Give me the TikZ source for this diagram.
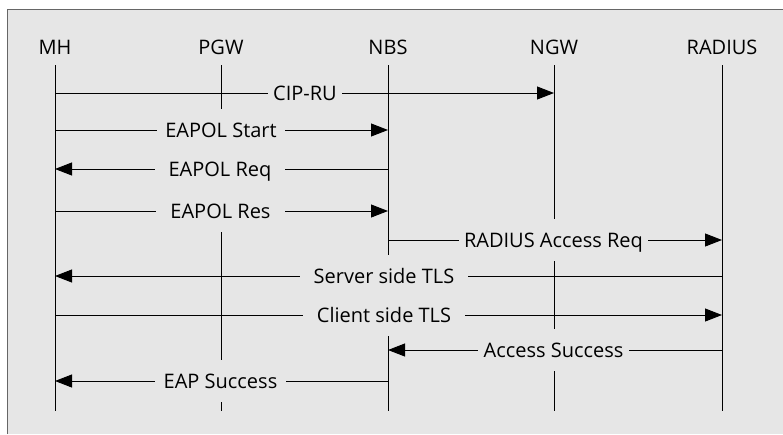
\documentclass[tikz,border=0pt]{standalone}
\usepackage{fontspec}
\setmainfont{Open Sans}
\usetikzlibrary{arrows.meta}
\definecolor{panel}{gray}{0.902}
\definecolor{rim}{gray}{0.40}
\begin{document}
\begin{tikzpicture}[x=1pt,y=-1pt,
  actor/.style={anchor=base, inner sep=0pt, font=\fontsize{20}{24}\selectfont},
  life/.style={line width=0.9pt},
  msg/.style={line width=0.9pt, -{Triangle[length=17pt,width=13pt]}},
  plain/.style={line width=0.9pt},
  lbl/.style={fill=panel, inner xsep=8pt, inner ysep=0pt, text height=14.5pt,
              text depth=0pt, minimum height=42pt, font=\fontsize{20}{24}\selectfont}]
\useasboundingbox (0,0) rectangle (783,434);
% page and grey panel
\fill[white] (0,0) rectangle (783,434);
\fill[panel] (7.5,9.5) rectangle (783,434);
\draw[rim, line width=1pt] (7.5,434) -- (7.5,9.5) -- (783,9.5);

% participants
\node[actor] (mh)  at (55,54.5)  {MH};
\node[actor] (pgw) at (221,54.5) {PGW};
\node[actor] (nbs) at (388,54.5) {NBS};
\node[actor] (ngw) at (554,54.5) {NGW};
\node[actor] (rad) at (722,54.5) {RADIUS};

% lifelines
\coordinate (top) at (0,65);
\coordinate (bot) at (0,411);
\foreach \p in {mh,pgw,nbs,ngw,rad}
  \draw[life] (\p |- top) -- (\p |- bot);

% message rows
\coordinate (r1) at (0,93);
\coordinate (r2) at (0,130);
\coordinate (r3) at (0,169);
\coordinate (r4) at (0,211);
\coordinate (r5) at (0,240);
\coordinate (r6) at (0,276);
\coordinate (r7) at (0,315);
\coordinate (r8) at (0,350);
\coordinate (r9) at (0,381);

% messages
\draw[msg] (mh |- r1) -- (ngw |- r1);
\draw[msg] (mh |- r2) -- (nbs |- r2);
\draw[msg] (nbs |- r3) -- (mh |- r3);
\draw[msg] (mh |- r4) -- (nbs |- r4);
\draw[msg] (nbs |- r5) -- (rad |- r5);
\draw[msg] (rad |- r6) -- (mh |- r6);
\draw[msg] (mh |- r7) -- (rad |- r7);
\draw[msg] (rad |- r8) -- (nbs |- r8);
\draw[msg] (nbs |- r9) -- (mh |- r9);

% message labels
\node[lbl, inner xsep=5pt] (l1) at (305,93)   {CIP-RU};
\node[lbl]                 (l2) at (221,130)  {EAPOL Start};
\node[lbl, inner xsep=14pt] (l3) at (220,169) {EAPOL Req};
\node[lbl, inner xsep=14pt] (l4) at (220.5,211) {EAPOL Res};
\node[lbl, inner xsep=5pt] (l5) at (553.5,240) {RADIUS Access Req};
\node[lbl, inner xsep=14pt] (l6) at (384,276)  {Server side TLS};
\node[lbl, inner xsep=14pt] (l7) at (384,315)  {Client side TLS};
\node[lbl, inner xsep=6pt] (l8) at (553.5,350) {Access Success};
\node[lbl, inner xsep=9pt] (l9) at (220.5,381) {EAP Success};
\end{tikzpicture}
\end{document}
